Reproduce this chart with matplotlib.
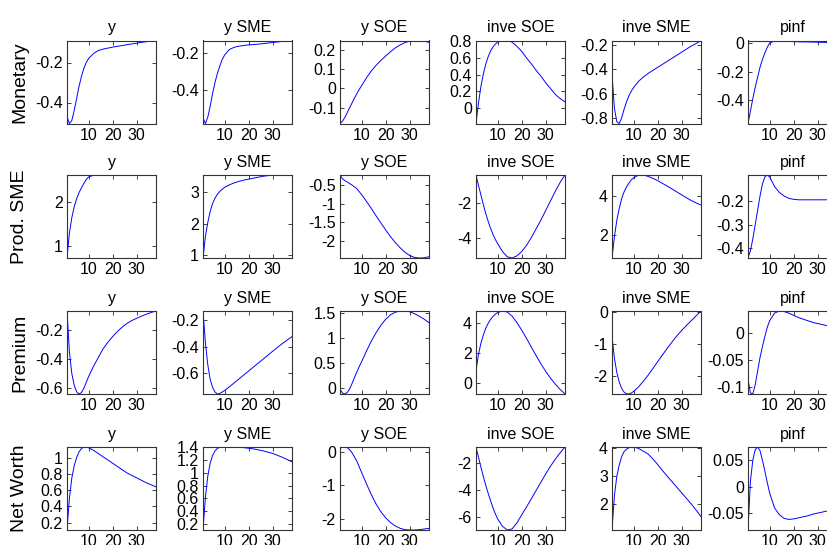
import matplotlib
matplotlib.use("Agg")
import matplotlib.pyplot as plt
from matplotlib.ticker import FormatStrFormatter

plt.rcParams["font.family"] = ["Liberation Sans", "DejaVu Sans"]

T = [1, 2, 3, 4, 5, 6, 7, 8, 9, 10, 12, 14, 16, 18, 20, 22, 24, 26, 28, 30, 32, 34, 36, 38]

SHOCKS = ["Monetary", "Prod. SME", "Premium", "Net Worth"]
VARS = ["y", "y SME", "y SOE", "inve SOE", "inve SME", "pinf"]

# --- monetary shock
mon_y = [-0.47, -0.505, -0.49, -0.44, -0.38, -0.32, -0.27, -0.23, -0.2, -0.18, -0.155, -0.14,
         -0.133, -0.128, -0.123, -0.119, -0.115, -0.111, -0.107, -0.103, -0.099, -0.096, -0.093, -0.09]
mon_ysme = [-0.555, -0.585, -0.55, -0.49, -0.42, -0.36, -0.31, -0.27, -0.235, -0.21, -0.18, -0.168,
            -0.162, -0.158, -0.155, -0.153, -0.151, -0.148, -0.145, -0.142, -0.139, -0.136, -0.133, -0.131]
mon_ysoe = [-0.181, -0.17, -0.15, -0.125, -0.1, -0.075, -0.05, -0.027, -0.005, 0.015, 0.055, 0.09,
            0.12, 0.145, 0.168, 0.19, 0.21, 0.225, 0.237, 0.245, 0.248, 0.248, 0.245, 0.238]
mon_isoe = [-0.19, 0.05, 0.25, 0.4, 0.52, 0.61, 0.68, 0.73, 0.765, 0.79, 0.81, 0.81,
            0.79, 0.74, 0.68, 0.6, 0.53, 0.45, 0.38, 0.3, 0.23, 0.16, 0.11, 0.07]
mon_isme = [-0.44, -0.72, -0.83, -0.845, -0.8, -0.73, -0.67, -0.62, -0.58, -0.55, -0.5, -0.465,
            -0.435, -0.41, -0.385, -0.36, -0.335, -0.31, -0.285, -0.26, -0.235, -0.21, -0.19, -0.165]
mon_pinf = [-0.565, -0.48, -0.39, -0.31, -0.24, -0.17, -0.115, -0.07, -0.03, 0.0, 0.015, 0.018,
            0.016, 0.012, 0.01, 0.009, 0.008, 0.008, 0.007, 0.006, 0.005, 0.004, 0.004, 0.004]

# --- productivity shock to SMEs
prod_y = [0.73, 1.3, 1.65, 1.9, 2.08, 2.22, 2.33, 2.43, 2.52, 2.58, 2.615, 2.62,
          2.62, 2.62, 2.62, 2.62, 2.623, 2.623, 2.623, 2.623, 2.623, 2.623, 2.62, 2.62]
prod_ysme = [0.92, 1.6, 2.05, 2.4, 2.65, 2.82, 2.94, 3.03, 3.1, 3.16, 3.24, 3.3,
             3.35, 3.39, 3.42, 3.45, 3.48, 3.51, 3.53, 3.545, 3.55, 3.55, 3.55, 3.55]
prod_ysoe = [-0.23, -0.33, -0.38, -0.42, -0.46, -0.5, -0.55, -0.6, -0.68, -0.76, -0.94, -1.13,
             -1.33, -1.52, -1.71, -1.89, -2.05, -2.19, -2.31, -2.4, -2.45, -2.465, -2.46, -2.43]
prod_isoe = [-0.38, -0.95, -1.5, -2.05, -2.55, -3.0, -3.4, -3.75, -4.05, -4.3, -4.75, -5.05,
             -5.12, -5.0, -4.75, -4.4, -3.95, -3.45, -2.95, -2.4, -1.85, -1.3, -0.8, -0.38]
prod_isme = [0.82, 1.9, 2.75, 3.35, 3.85, 4.2, 4.45, 4.65, 4.82, 4.93, 5.06, 5.07,
             5.0, 4.9, 4.78, 4.64, 4.5, 4.35, 4.2, 4.05, 3.9, 3.76, 3.64, 3.53]
prod_pinf = [-0.44, -0.41, -0.36, -0.3, -0.24, -0.18, -0.13, -0.1, -0.092, -0.1, -0.14, -0.165,
             -0.18, -0.19, -0.194, -0.196, -0.196, -0.196, -0.196, -0.196, -0.196, -0.196, -0.196, -0.196]

# --- risk premium shock
prem_y = [-0.07, -0.35, -0.5, -0.58, -0.625, -0.64, -0.63, -0.6, -0.56, -0.52, -0.45, -0.39,
          -0.33, -0.285, -0.245, -0.21, -0.18, -0.155, -0.135, -0.12, -0.105, -0.092, -0.08, -0.07]
prem_ysme = [-0.13, -0.37, -0.54, -0.65, -0.71, -0.745, -0.76, -0.755, -0.745, -0.733, -0.705, -0.675,
             -0.645, -0.615, -0.585, -0.555, -0.525, -0.495, -0.465, -0.435, -0.405, -0.377, -0.35, -0.325]
prem_ysoe = [-0.03, -0.11, -0.13, -0.1, -0.03, 0.08, 0.2, 0.31, 0.42, 0.52, 0.73, 0.93,
             1.1, 1.25, 1.37, 1.46, 1.51, 1.535, 1.535, 1.52, 1.48, 1.43, 1.37, 1.3]
prem_isoe = [0.85, 1.9, 2.65, 3.2, 3.65, 3.98, 4.25, 4.45, 4.6, 4.72, 4.82, 4.75,
             4.48, 4.05, 3.55, 3.0, 2.42, 1.85, 1.3, 0.8, 0.35, -0.05, -0.4, -0.7]
prem_isme = [-0.78, -1.45, -1.9, -2.2, -2.4, -2.52, -2.57, -2.58, -2.55, -2.5, -2.36, -2.18,
             -1.99, -1.78, -1.56, -1.35, -1.14, -0.94, -0.75, -0.58, -0.42, -0.27, -0.12, 0.03]
prem_pinf = [-0.085, -0.11, -0.112, -0.095, -0.07, -0.045, -0.025, -0.007, 0.01, 0.022, 0.036, 0.04,
             0.039, 0.036, 0.032, 0.028, 0.025, 0.022, 0.019, 0.017, 0.015, 0.013, 0.011, 0.01]

# --- net worth shock
nw_y = [0.11, 0.5, 0.75, 0.9, 1.0, 1.07, 1.11, 1.13, 1.13, 1.12, 1.09, 1.05,
        1.01, 0.97, 0.93, 0.89, 0.85, 0.81, 0.78, 0.75, 0.72, 0.69, 0.665, 0.64]
nw_ysme = [0.11, 0.62, 0.95, 1.15, 1.27, 1.34, 1.38, 1.395, 1.4, 1.4, 1.4, 1.398,
           1.395, 1.39, 1.38, 1.37, 1.355, 1.34, 1.32, 1.3, 1.27, 1.24, 1.205, 1.17]
nw_ysoe = [0.1, 0.135, 0.14, 0.12, 0.06, -0.03, -0.15, -0.28, -0.45, -0.62, -0.95, -1.27,
           -1.55, -1.78, -1.96, -2.1, -2.2, -2.27, -2.31, -2.32, -2.32, -2.31, -2.29, -2.27]
nw_isoe = [-0.77, -1.5, -2.25, -2.95, -3.6, -4.2, -4.75, -5.3, -5.75, -6.15, -6.7, -6.98,
           -6.9, -6.45, -5.85, -5.25, -4.65, -4.02, -3.4, -2.78, -2.2, -1.67, -1.2, -0.77]
nw_isme = [1.07, 2.3, 3.0, 3.4, 3.7, 3.88, 3.97, 4.02, 4.05, 4.05, 4.0, 3.9,
           3.8, 3.62, 3.42, 3.2, 3.0, 2.8, 2.6, 2.4, 2.2, 2.0, 1.78, 1.55]
nw_pinf = [-0.082, 0.01, 0.05, 0.07, 0.075, 0.068, 0.05, 0.03, 0.008, -0.012, -0.04, -0.053,
           -0.06, -0.062, -0.061, -0.059, -0.057, -0.055, -0.052, -0.05, -0.048, -0.046, -0.044, -0.043]

SERIES = [
    [mon_y, mon_ysme, mon_ysoe, mon_isoe, mon_isme, mon_pinf],
    [prod_y, prod_ysme, prod_ysoe, prod_isoe, prod_isme, prod_pinf],
    [prem_y, prem_ysme, prem_ysoe, prem_isoe, prem_isme, prem_pinf],
    [nw_y, nw_ysme, nw_ysoe, nw_isoe, nw_isme, nw_pinf],
]

XTICKS = [10, 20, 30]
YTICKS = [
    [[-0.4, -0.2], [-0.4, -0.2], [-0.1, 0, 0.1, 0.2], [0, 0.2, 0.4, 0.6, 0.8],
     [-0.8, -0.6, -0.4, -0.2], [-0.4, -0.2, 0]],
    [[1, 2], [1, 2, 3], [-2, -1.5, -1, -0.5], [-4, -2], [2, 4], [-0.4, -0.3, -0.2]],
    [[-0.6, -0.4, -0.2], [-0.6, -0.4, -0.2], [0, 0.5, 1, 1.5], [0, 2, 4], [-2, -1, 0],
     [-0.1, -0.05, 0]],
    [[0.2, 0.4, 0.6, 0.8, 1], [0.2, 0.4, 0.6, 0.8, 1, 1.2, 1.4], [-2, -1, 0], [-6, -4, -2],
     [2, 3, 4], [-0.05, 0, 0.05]],
]

W, H = 827, 545
fig = plt.figure(figsize=(W / 100, H / 100), dpi=100)

col_left = [67, 203, 340, 476, 612, 748]
row_top = [40.5, 175, 311, 447]
aw, ah = 89, 83

for i, shock in enumerate(SHOCKS):
    for j, var in enumerate(VARS):
        ax = fig.add_axes([col_left[j] / W, 1 - (row_top[i] + ah) / H, aw / W, ah / H])
        vals = SERIES[i][j]
        ax.plot(T, vals, color="#0000ff", lw=0.7)
        ax.set_xlim(1, 38)
        ax.set_ylim(min(vals), max(vals))
        ax.set_xticks(XTICKS)
        ax.set_yticks(YTICKS[i][j])
        ax.yaxis.set_major_formatter(FormatStrFormatter("%g"))
        ax.tick_params(direction="in", length=3, width=0.6, labelsize=11.5, pad=3,
                       top=True, right=True, colors="#222222", labelcolor="black")
        for sp in ax.spines.values():
            sp.set_color("#333333")
            sp.set_linewidth(0.8)
        ax.set_title(var, fontsize=11.5, pad=6)
    yc = 1 - (row_top[i] + ah / 2) / H
    fig.text(20 / W, yc, shock, rotation=90, ha="center", va="center", fontsize=14)

fig.savefig("out.png", dpi=100)
